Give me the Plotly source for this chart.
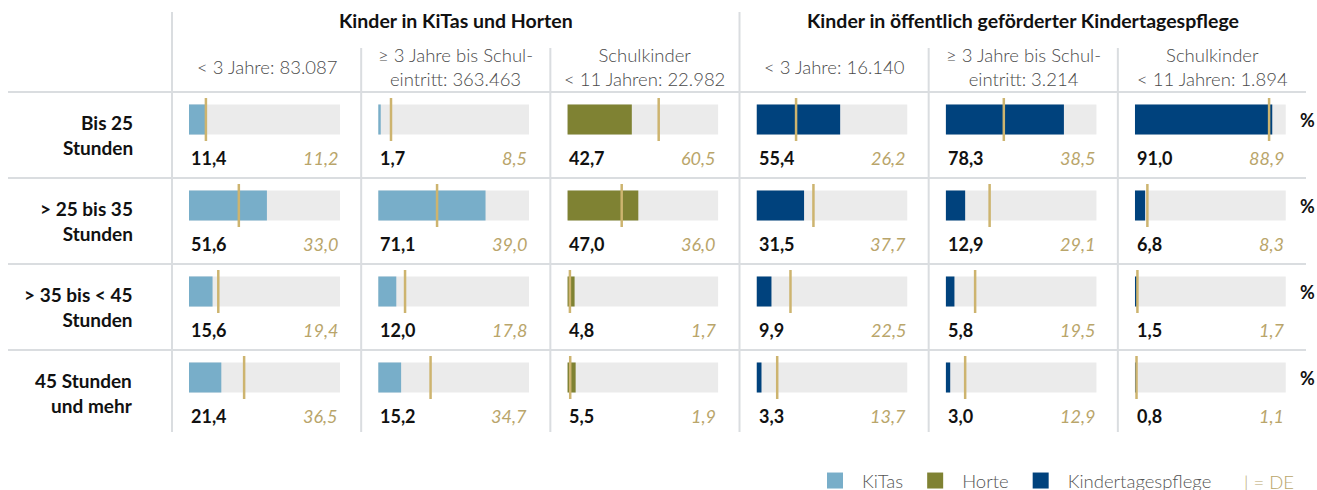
import plotly.graph_objects as go

# ---------------- data ----------------
row_labels = ["Bis 25<br>Stunden", "&gt; 25 bis 35<br>Stunden",
              "&gt; 35 bis &lt; 45<br>Stunden", "45 Stunden<br>und mehr"]
group_titles = ["Kinder in KiTas und Horten",
                "Kinder in öffentlich geförderter Kindertagespflege"]
column_titles = ["&lt; 3 Jahre: 83.087",
                 "≥ 3 Jahre bis Schul-<br>eintritt: 363.463",
                 "Schulkinder<br>&lt; 11 Jahren: 22.982",
                 "&lt; 3 Jahre: 16.140",
                 "≥ 3 Jahre bis Schul-<br>eintritt: 3.214",
                 "Schulkinder<br>&lt; 11 Jahren: 1.894"]
column_types = ["KiTas", "KiTas", "Horte",
                "Kindertagespflege", "Kindertagespflege", "Kindertagespflege"]
legend_names = ["KiTas", "Horte", "Kindertagespflege"]

kitas_u3 = [11.4, 51.6, 15.6, 21.4]
kitas_3_schule = [1.7, 71.1, 12.0, 15.2]
horte_schulkinder = [42.7, 47.0, 4.8, 5.5]
ktp_u3 = [55.4, 31.5, 9.9, 3.3]
ktp_3_schule = [78.3, 12.9, 5.8, 3.0]
ktp_schulkinder = [91.0, 6.8, 1.5, 0.8]

de_kitas_u3 = [11.2, 33.0, 19.4, 36.5]
de_kitas_3_schule = [8.5, 39.0, 17.8, 34.7]
de_horte_schulkinder = [60.5, 36.0, 1.7, 1.9]
de_ktp_u3 = [26.2, 37.7, 22.5, 13.7]
de_ktp_3_schule = [38.5, 29.1, 19.5, 12.9]
de_ktp_schulkinder = [88.9, 8.3, 1.7, 1.1]

values = [kitas_u3, kitas_3_schule, horte_schulkinder,
          ktp_u3, ktp_3_schule, ktp_schulkinder]
de_values = [de_kitas_u3, de_kitas_3_schule, de_horte_schulkinder,
             de_ktp_u3, de_ktp_3_schule, de_ktp_schulkinder]
scale_max = 100

# ---------------- styles ----------------
W, H = 1317, 490
FONT = "Lato"
colors = {"KiTas": "#78AEC9", "Horte": "#7F8233", "Kindertagespflege": "#00427D"}
TRACK = "#EBEBEB"
GOLD_LINE = "#CDB46F"
GOLD_TEXT = "#B9A56A"
GRID = "#DADDE0"


def px(x):
    return x / W


def py(y):
    return 1 - y / H


col_bounds = [172 + 189.17 * i for i in range(7)]
row_top = [92 + 86 * i for i in range(5)]

fig = go.Figure()
layout = {}
annotations = []
shapes = []

for c in range(6):
    for r in range(4):
        n = c * 4 + r + 1
        s = "" if n == 1 else str(n)
        xa, ya = f"x{s}", f"y{s}"
        left = col_bounds[c] + 17
        layout[f"xaxis{s}"] = dict(domain=[px(left), px(left + 151)], range=[0, scale_max],
                                   visible=False, fixedrange=True, anchor=ya)
        top = row_top[r] + 6
        layout[f"yaxis{s}"] = dict(domain=[py(top + 43), py(top)], range=[-0.5, 0.5],
                                   visible=False, fixedrange=True, anchor=xa)
        fig.add_trace(go.Bar(x=[scale_max], y=[0], orientation="h", width=0.7,
                             marker=dict(color=TRACK, line_width=0), xaxis=xa, yaxis=ya,
                             showlegend=False, hoverinfo="skip"))
        t = column_types[c]
        fig.add_trace(go.Bar(x=[values[c][r]], y=[0], orientation="h", width=0.7,
                             marker=dict(color=colors[t], line_width=0), xaxis=xa, yaxis=ya,
                             name=t, legendgroup=t, showlegend=False))
        d = de_values[c][r]
        fig.add_trace(go.Scatter(x=[d, d], y=[-0.5, 0.5], mode="lines",
                                 line=dict(color=GOLD_LINE, width=2.5), xaxis=xa, yaxis=ya,
                                 showlegend=False, hoverinfo="skip"))
        ty = py(row_top[r] + 66)
        annotations.append(dict(text=f"{values[c][r]:.1f}".replace(".", ","),
                                xref=f"{xa} domain", x=0, xanchor="left",
                                yref="paper", y=ty, yanchor="middle", showarrow=False,
                                font=dict(family=FONT, size=18, color="#111111", weight=700)))
        annotations.append(dict(text=f"{d:.1f}".replace(".", ","),
                                xref=f"{xa} domain", x=1, xanchor="right",
                                yref="paper", y=ty, yanchor="middle", showarrow=False,
                                font=dict(family=FONT, size=18, color=GOLD_TEXT, style="italic")))

# legend entries (swatches only)
for name in legend_names:
    fig.add_trace(go.Scatter(x=[None], y=[None], mode="markers", name=name,
                             legendgroup=name,
                             marker=dict(symbol="square", size=16, color=colors[name],
                                         line_width=0)))

# row labels and % signs
for r in range(4):
    annotations.append(dict(text=row_labels[r], xref="paper", x=px(135), xanchor="right",
                            yref="paper", y=py(row_top[r] + 43), yanchor="middle",
                            align="right", showarrow=False,
                            font=dict(family=FONT, size=19, color="#111111", weight=700)))
    annotations.append(dict(text="%", xref="paper", x=px(1317), xanchor="right",
                            yref="paper", y=py(row_top[r] + 28), yanchor="middle",
                            showarrow=False,
                            font=dict(family=FONT, size=18, color="#111111", weight=700)))

# group titles
for g in range(2):
    cx = (col_bounds[3 * g] + col_bounds[3 * g + 3]) / 2
    annotations.append(dict(text=group_titles[g], xref="paper", x=px(cx), xanchor="center",
                            yref="paper", y=py(20), yanchor="middle", showarrow=False,
                            font=dict(family=FONT, size=19.5, color="#111111", weight=700)))

# column titles
for c in range(6):
    cx = (col_bounds[c] + col_bounds[c + 1]) / 2
    annotations.append(dict(text=column_titles[c], xref="paper", x=px(cx), xanchor="center",
                            yref="paper", y=py(67), yanchor="middle", showarrow=False,
                            align="center",
                            font=dict(family=FONT, size=18.5, color="#4A4A4A", weight=300)))

# legend "| = DE"
annotations.append(dict(text="| = DE", xref="paper", x=px(1242), xanchor="left",
                        yref="paper", y=py(482), yanchor="middle", showarrow=False,
                        font=dict(family=FONT, size=18.5, color=GOLD_TEXT, weight=300)))

# grid lines
line = dict(color=GRID, width=2)
for r in range(4):
    shapes.append(dict(type="line", xref="paper", yref="paper", x0=px(8), x1=px(1306),
                       y0=py(row_top[r]), y1=py(row_top[r]), line=line))
for i, xb in enumerate(col_bounds[:6]):
    y_start = 12 if i in (0, 3) else 48
    shapes.append(dict(type="line", xref="paper", yref="paper", x0=px(xb), x1=px(xb),
                       y0=py(y_start), y1=py(432), line=line))

fig.update_layout(
    width=W, height=H,
    margin=dict(l=0, r=0, t=0, b=0, autoexpand=False),
    paper_bgcolor="white", plot_bgcolor="white",
    barmode="overlay",
    annotations=annotations, shapes=shapes,
    legend=dict(orientation="h", x=px(808), xanchor="left", y=py(481), yanchor="middle",
                itemwidth=44, font=dict(family=FONT, size=18.5, color="#555555", weight=300),
                bgcolor="rgba(0,0,0,0)", itemclick=False, itemdoubleclick=False),
    font=dict(family=FONT),
    **layout,
)

fig.write_html("out.html", config={"displayModeBar": False},
               post_script="document.body.style.margin='0';"
                           "document.documentElement.style.overflow='hidden';")
